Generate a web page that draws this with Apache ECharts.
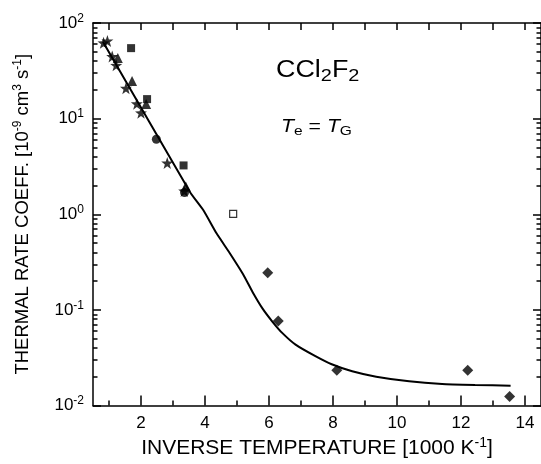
<!DOCTYPE html>
<html>
<head>
<meta charset="utf-8">
<script src="https://cdn.jsdelivr.net/npm/echarts@6/dist/echarts.min.js"></script>
<style>html,body{margin:0;padding:0;background:#fff}#c{width:541px;height:464px}</style>
</head>
<body>
<div id="c"></div>
<script>
// ---- data ----
const starData = [[0.83, 62], [0.95, 65], [1.10, 44.7], [1.225, 36.1], [1.53, 20.8], [1.87, 14.3], [2.0, 11.5], [2.82, 3.44], [3.35, 1.75]];
const triangleData = [[1.275, 43], [1.72, 24.8], [2.16, 14.2], [3.40, 1.95]];
const squareData = [[1.69, 54.6], [2.19, 16.0], [3.33, 3.24]];
const openSquareData = [[4.88, 1.01]];
const circleData = [[2.48, 6.08], [3.36, 1.69]];
const diamondData = [[5.96, 0.245], [6.29, 0.0764], [8.12, 0.0234], [12.21, 0.0234], [13.52, 0.01245]];
const curveData = [[0.81, 63.8], [3.54, 1.69], [3.95, 1.10], [4.36, 0.632], [4.77, 0.394], [5.19, 0.236], [5.49, 0.153], [5.80, 0.103], [6.11, 0.0751], [6.42, 0.0571], [6.83, 0.0433], [7.45, 0.0328], [7.96, 0.0270], [8.6, 0.0228], [9.35, 0.0200], [10.38, 0.0179], [11.41, 0.0168], [12.44, 0.0164], [13.55, 0.0161]];
const xMajorTicks = [2, 4, 6, 8, 10, 12, 14];
const xMinorTicks = [1, 3, 5, 7, 9, 11, 13];
const xAllTicks = [1, 2, 3, 4, 5, 6, 7, 8, 9, 10, 11, 12, 13, 14];
const yMinorTicks = [0.02,0.03,0.04,0.05,0.06,0.07,0.08,0.09,0.2,0.3,0.4,0.5,0.6,0.7,0.8,0.9,2,3,4,5,6,7,8,9,20,30,40,50,60,70,80,90];

const FONT = 'Liberation Sans, Arial, sans-serif';
const starPath = 'path://M0,-10L2.351,-3.236L9.511,-3.090L3.804,1.236L5.878,8.090L0,4L-5.878,8.090L-3.804,1.236L-9.511,-3.090L-2.351,-3.236Z';

const line = {show: true, onZero: false, lineStyle: {color: '#000', width: 1.5}};
const noLine = {show: false, onZero: false};
const tickStyle = {color: '#000', width: 1.5};
const xBase = {type: 'value', min: 0.5, max: 14.5, splitLine: {show: false}};
const yBase = {type: 'log', logBase: 10, min: 0.01, max: 100, splitLine: {show: false}};
// auxiliary axis in decades, only used to place the minor log ticks
const yDecade = {type: 'value', min: -2, max: 2, splitLine: {show: false}, axisLine: noLine, axisLabel: {show: false}};
const minorLogPositions = yMinorTicks.map(v => Math.log10(v));

const chart = echarts.init(document.getElementById('c'), null, {renderer: 'canvas'});
chart.setOption({
  backgroundColor: '#fff',
  animation: false,
  grid: {left: 93, top: 23, width: 454, bottom: 52, containLabel: false},
  xAxis: [
    Object.assign({}, xBase, {
      position: 'bottom', axisLine: line,
      axisTick: {show: true, inside: true, length: 10, lineStyle: tickStyle, customValues: xMajorTicks},
      axisLabel: {show: true, customValues: xMajorTicks, color: '#000', fontFamily: FONT, fontSize: 17, margin: 9},
      name: 'INVERSE TEMPERATURE [1000 K{sup|-1}]', nameLocation: 'middle', nameGap: 31,
      nameTextStyle: {color: '#000', fontFamily: FONT, fontSize: 21, rich: {sup: {fontSize: 14, verticalAlign: 'top', fontFamily: FONT, color: '#000', padding: [0, 0, 10, 0]}}}
    }),
    Object.assign({}, xBase, {
      position: 'bottom', axisLine: noLine,
      axisTick: {show: true, inside: true, length: 5, lineStyle: tickStyle, customValues: xMinorTicks},
      axisLabel: {show: false}
    }),
    Object.assign({}, xBase, {
      position: 'top', axisLine: line,
      axisTick: {show: true, inside: true, length: 7, lineStyle: tickStyle, customValues: xAllTicks},
      axisLabel: {show: false}
    })
  ],
  yAxis: [
    Object.assign({}, yBase, {
      position: 'left', axisLine: line,
      axisTick: {show: true, inside: true, length: 8, lineStyle: tickStyle},
      axisLabel: {show: true, color: '#000', fontFamily: FONT, fontSize: 17, margin: 9,
        formatter: function (v) { return '10{sup|' + Math.round(Math.log10(v)) + '}'; },
        rich: {sup: {fontSize: 12, fontFamily: FONT, color: '#000', verticalAlign: 'top', padding: [0, 0, 9, 0]}}},
      name: 'THERMAL RATE COEFF. [10{sup|-9} cm{sup|3} s{sup|-1}]', nameLocation: 'middle', nameGap: 60, nameRotate: 90,
      nameTextStyle: {color: '#000', fontFamily: FONT, fontSize: 18.5, rich: {sup: {fontSize: 12, fontFamily: FONT, color: '#000', verticalAlign: 'top', padding: [0, 0, 9, 0]}}}
    }),
    Object.assign({}, yDecade, {
      position: 'left',
      axisTick: {show: true, inside: true, length: 4.5, lineStyle: tickStyle, customValues: minorLogPositions}
    }),
    Object.assign({}, yBase, {
      position: 'right', axisLine: line,
      axisTick: {show: true, inside: true, length: 8, lineStyle: tickStyle},
      axisLabel: {show: false}
    }),
    Object.assign({}, yDecade, {
      position: 'right',
      axisTick: {show: true, inside: true, length: 4.5, lineStyle: tickStyle, customValues: minorLogPositions}
    })
  ],
  graphic: [
    {type: 'text', x: 276, y: 56, scaleX: 1.17, style: {text: 'CCl{sub|2}F{sub|2}', fill: '#000', font: '23px ' + FONT,
      rich: {sub: {fontSize: 17, fontFamily: FONT, fill: '#000', verticalAlign: 'bottom', padding: [12, 0, 0, 0]}}}},
    {type: 'text', x: 281, y: 115, scaleX: 1.15, style: {text: '{it|T}{sub|e} = {it|T}{sub|G}', fill: '#000', font: '18.5px ' + FONT,
      rich: {it: {fontStyle: 'italic', fontSize: 18.5, fontFamily: FONT, fill: '#000'}, sub: {fontSize: 13.5, fontFamily: FONT, fill: '#000', verticalAlign: 'bottom', padding: [9, 0, 0, 0]}}}}
  ],
  series: [
    {type: 'line', data: curveData, showSymbol: false, symbol: 'none', smooth: 0.15, lineStyle: {color: '#000', width: 2}, z: 2},
    {type: 'scatter', data: starData, symbol: starPath, symbolSize: 12, itemStyle: {color: '#000'}, z: 3},
    {type: 'scatter', data: triangleData, symbol: 'triangle', symbolSize: 10, itemStyle: {color: '#000'}, z: 3},
    {type: 'scatter', data: squareData, symbol: 'rect', symbolSize: 8, itemStyle: {color: '#000'}, z: 3},
    {type: 'scatter', data: openSquareData, symbol: 'rect', symbolSize: 7, itemStyle: {color: '#fff', borderColor: '#000', borderWidth: 1.2}, z: 3},
    {type: 'scatter', data: circleData, symbol: 'circle', symbolSize: 9, itemStyle: {color: '#000'}, z: 3},
    {type: 'scatter', data: diamondData, symbol: 'diamond', symbolSize: 11, itemStyle: {color: '#000'}, z: 3}
  ]
});
</script>
</body>
</html>
